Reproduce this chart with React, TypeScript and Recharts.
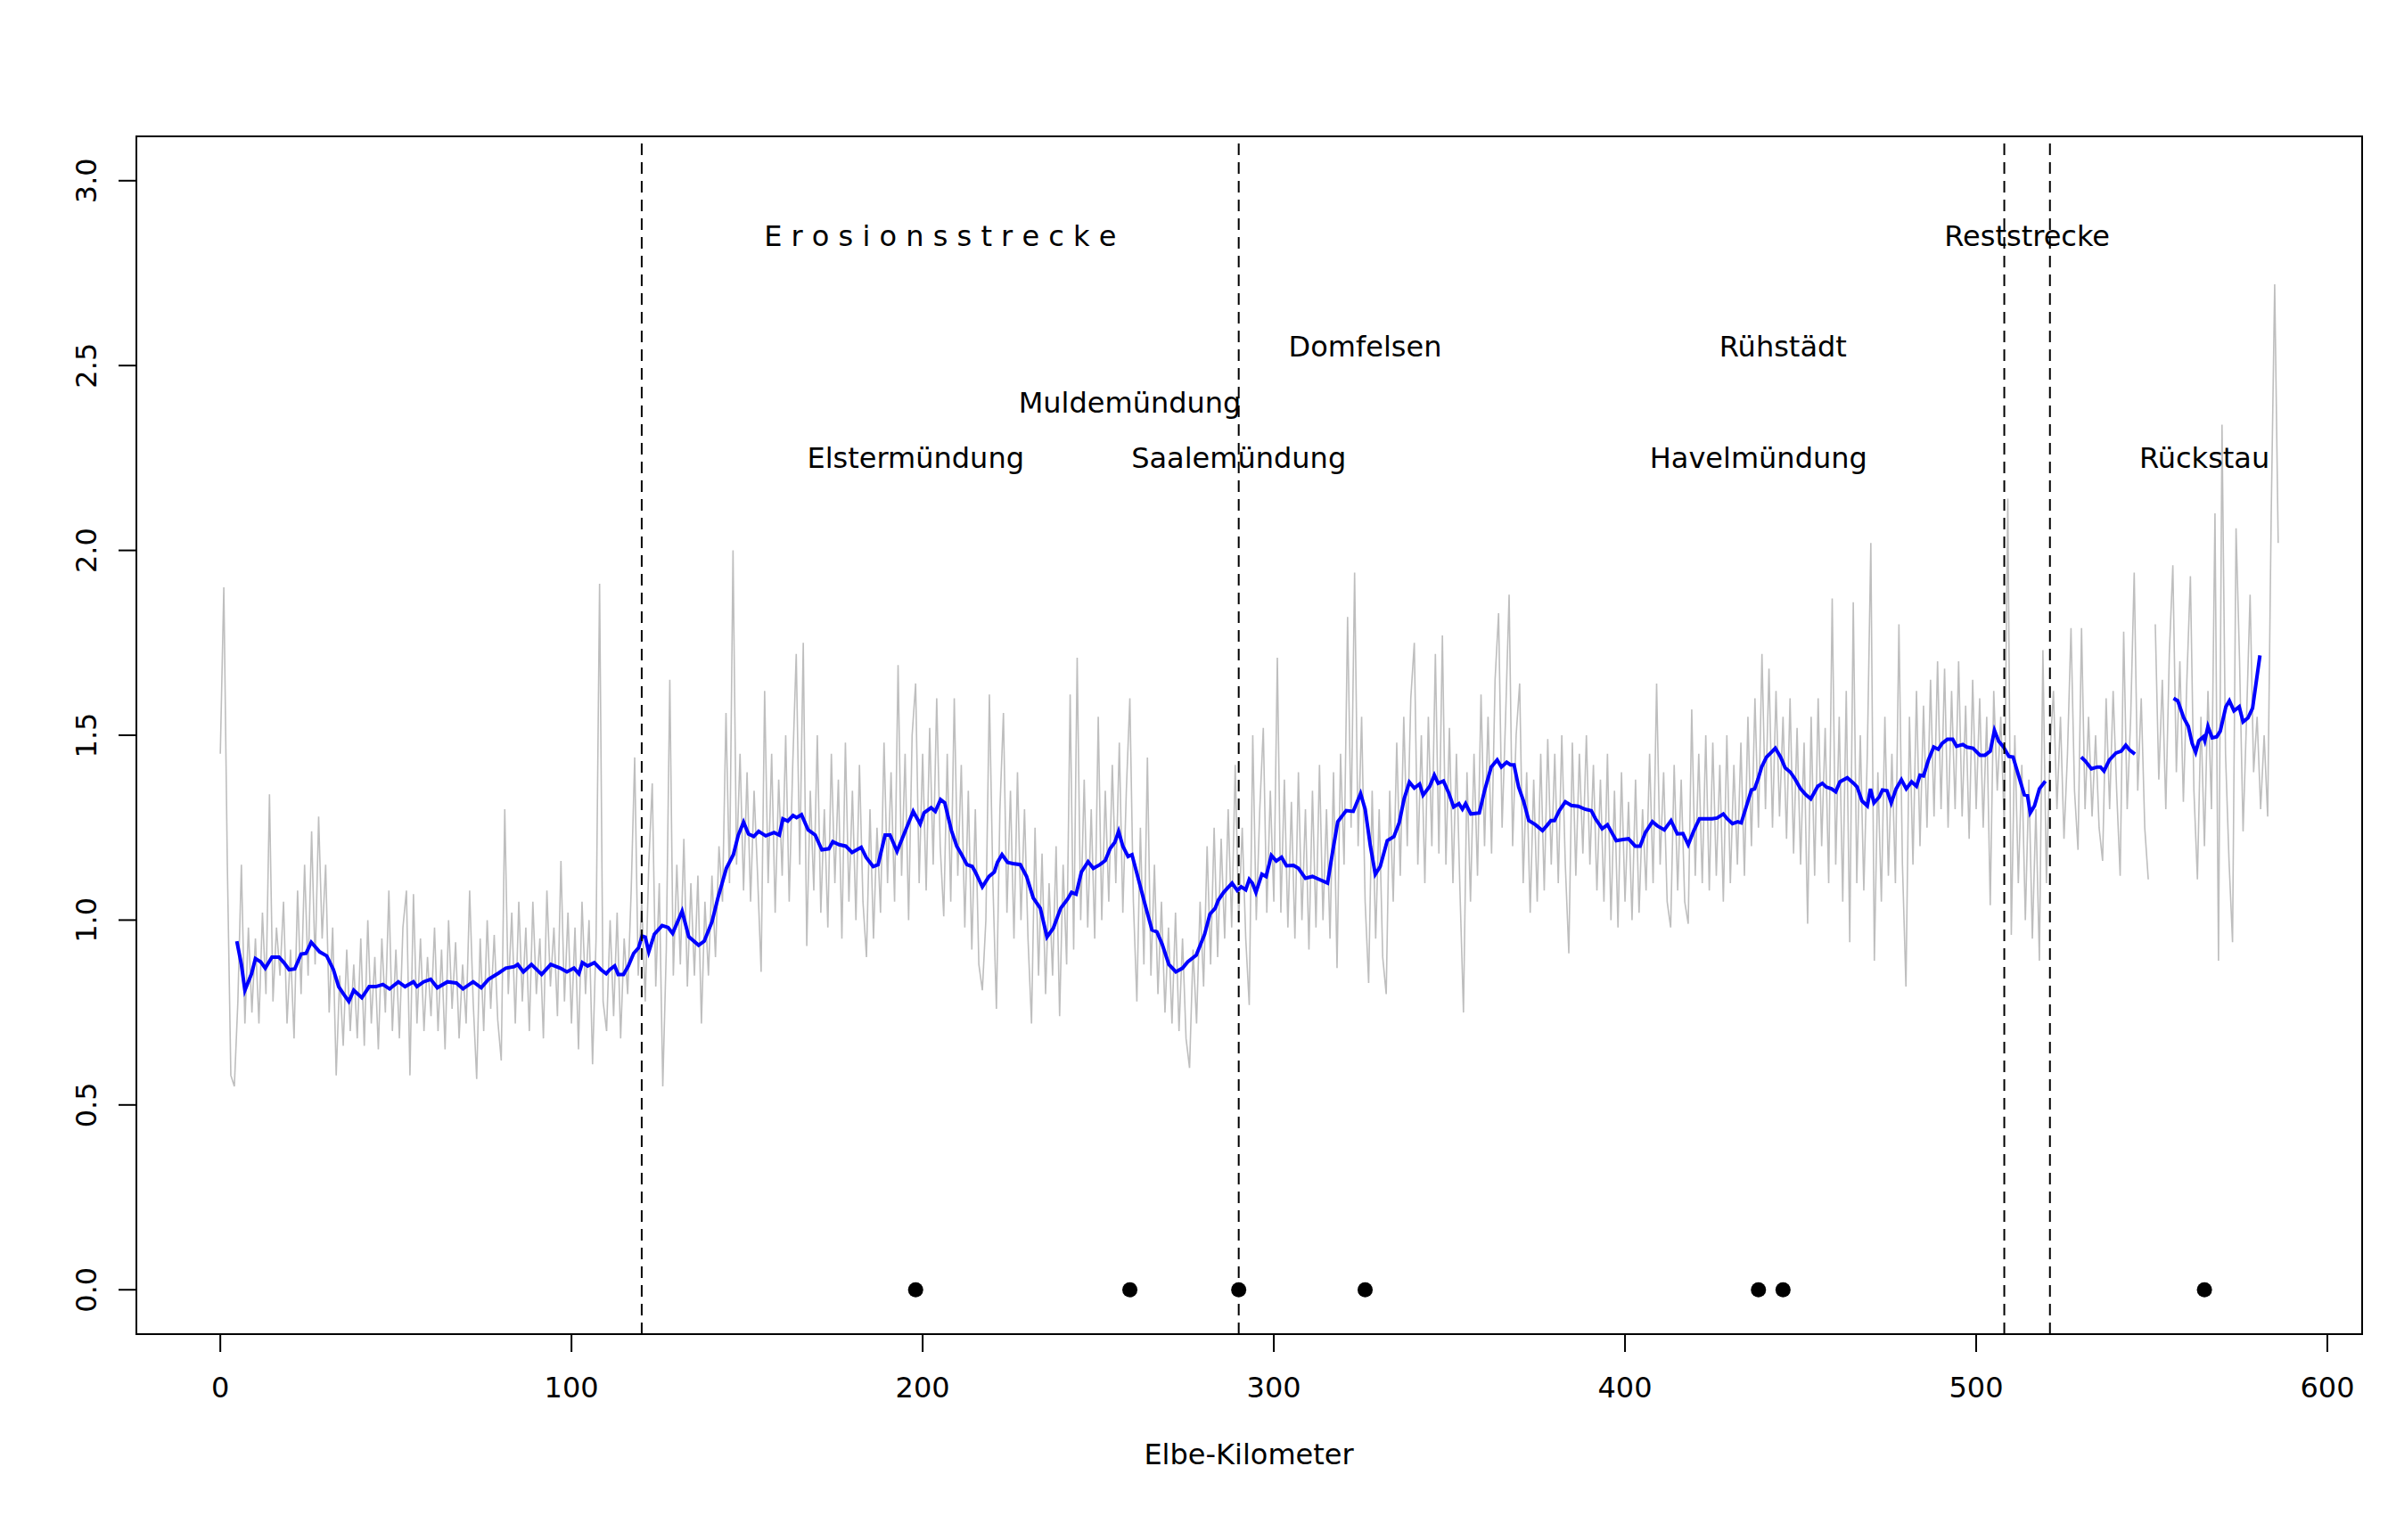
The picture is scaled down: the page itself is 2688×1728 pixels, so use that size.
import React from "react";
import {
  ComposedChart,
  Line,
  Scatter,
  XAxis,
  YAxis,
  ReferenceLine,
  ReferenceArea,
} from "recharts";

// ---------- data ----------
// raw depth values (grey), one reading per Elbe-Kilometer starting at km 0 (null = gap)
const GRAY_START_KM = 0;
const grayDepth: (number | null)[] = [
  1.45, 1.90, 1.15, 0.58, 0.55, 0.78, 1.15, 0.72, 0.98, 0.75,
  0.95, 0.72, 1.02, 0.80, 1.34, 0.78, 0.98, 0.85, 1.05, 0.72,
  0.92, 0.68, 1.08, 0.80, 1.15, 0.85, 1.24, 0.88, 1.28, 0.95,
  1.15, 0.75, 0.98, 0.58, 0.85, 0.66, 0.92, 0.70, 0.88, 0.68,
  0.95, 0.66, 1.00, 0.72, 0.90, 0.65, 0.95, 0.75, 1.08, 0.70,
  0.92, 0.68, 0.98, 1.08, 0.58, 1.07, 0.72, 0.95, 0.70, 0.90,
  0.74, 0.98, 0.70, 0.92, 0.65, 1.00, 0.76, 0.94, 0.68, 0.88,
  0.72, 1.08, 0.78, 0.57, 0.95, 0.70, 1.00, 0.76, 0.96, 0.73,
  0.62, 1.30, 0.80, 1.02, 0.72, 1.05, 0.78, 0.98, 0.70, 1.05,
  0.80, 0.95, 0.68, 1.08, 0.82, 0.98, 0.74, 1.16, 0.78, 1.02,
  0.72, 0.98, 0.65, 1.05, 0.80, 1.00, 0.61, 0.95, 1.91, 0.78,
  0.70, 1.00, 0.74, 1.02, 0.68, 0.95, 0.80, 1.08, 1.44, 0.85,
  1.05, 0.78, 1.15, 1.37, 0.82, 1.10, 0.55, 0.92, 1.65, 0.85,
  1.15, 0.88, 1.22, 0.82, 1.10, 0.85, 1.12, 0.72, 1.05, 0.85,
  1.12, 0.90, 1.20, 1.05, 1.56, 1.10, 2.00, 1.15, 1.45, 1.08,
  1.40, 1.05, 1.35, 1.12, 0.86, 1.62, 1.10, 1.45, 1.02, 1.38,
  1.12, 1.50, 1.05, 1.42, 1.72, 1.15, 1.75, 0.93, 1.35, 1.08,
  1.50, 1.02, 1.30, 0.98, 1.45, 1.10, 1.38, 0.95, 1.48, 1.05,
  1.35, 1.00, 1.42, 1.05, 0.90, 1.30, 0.95, 1.25, 1.02, 1.48,
  1.10, 1.40, 1.05, 1.69, 1.12, 1.45, 1.00, 1.50, 1.64, 1.10,
  1.45, 1.08, 1.52, 1.15, 1.60, 1.20, 1.01, 1.45, 1.05, 1.60,
  1.12, 1.42, 0.98, 1.35, 0.92, 1.30, 0.88, 0.81, 1.00, 1.61,
  1.10, 0.76, 1.30, 1.56, 1.02, 1.35, 0.95, 1.40, 1.00, 1.30,
  0.95, 0.72, 1.25, 0.85, 1.18, 0.80, 1.10, 0.85, 1.20, 0.74,
  1.15, 0.88, 1.61, 0.92, 1.71, 1.00, 1.38, 0.98, 1.30, 0.95,
  1.55, 1.00, 1.35, 1.05, 1.42, 1.10, 1.48, 1.02, 1.35, 1.60,
  1.05, 0.78, 1.25, 0.88, 1.44, 0.85, 1.15, 0.80, 1.05, 0.75,
  0.98, 0.72, 1.02, 0.70, 0.95, 0.68, 0.60, 0.92, 0.72, 1.05,
  0.82, 1.20, 0.88, 1.25, 0.90, 1.22, 0.95, 1.30, 0.98, 1.42,
  1.00, 1.25, 0.95, 0.77, 1.50, 1.00, 1.30, 1.52, 1.02, 1.35,
  1.05, 1.71, 1.02, 1.38, 0.98, 1.32, 0.95, 1.40, 1.00, 1.30,
  0.92, 1.35, 0.98, 1.42, 1.00, 1.30, 0.95, 1.40, 0.87, 1.45,
  1.15, 1.82, 1.25, 1.94, 1.20, 1.55, 1.05, 0.83, 1.35, 0.95,
  1.30, 0.90, 0.80, 1.35, 1.05, 1.48, 1.12, 1.55, 1.20, 1.60,
  1.75, 1.15, 1.50, 1.10, 1.55, 1.20, 1.72, 1.18, 1.77, 1.15,
  1.52, 1.10, 1.45, 1.08, 0.75, 1.40, 1.05, 1.45, 1.12, 1.61,
  1.20, 1.55, 1.18, 1.65, 1.83, 1.25, 1.55, 1.88, 1.20, 1.50,
  1.64, 1.10, 1.40, 1.02, 1.38, 1.05, 1.45, 1.08, 1.49, 1.15,
  1.45, 1.10, 1.50, 1.15, 0.91, 1.48, 1.12, 1.45, 1.18, 1.50,
  1.15, 1.42, 1.08, 1.38, 1.05, 1.45, 1.00, 1.35, 0.98, 1.40,
  1.05, 1.32, 1.00, 1.38, 1.02, 1.30, 1.08, 1.45, 1.10, 1.64,
  1.15, 1.40, 1.05, 0.98, 1.42, 1.08, 1.38, 1.05, 0.99, 1.57,
  1.12, 1.45, 1.10, 1.50, 1.08, 1.48, 1.12, 1.42, 1.05, 1.50,
  1.10, 1.42, 1.15, 1.48, 1.12, 1.55, 1.20, 1.60, 1.25, 1.72,
  1.30, 1.68, 1.25, 1.62, 1.28, 1.55, 1.22, 1.60, 1.18, 1.52,
  1.15, 1.48, 0.99, 1.55, 1.12, 1.60, 1.20, 1.52, 1.10, 1.87,
  1.15, 1.55, 1.05, 1.62, 0.94, 1.86, 1.10, 1.50, 1.08, 1.45,
  2.02, 0.89, 1.40, 1.05, 1.55, 1.12, 1.45, 1.10, 1.80, 1.15,
  0.82, 1.55, 1.15, 1.62, 1.20, 1.58, 1.25, 1.65, 1.28, 1.70,
  1.30, 1.68, 1.25, 1.62, 1.30, 1.70, 1.28, 1.58, 1.22, 1.65,
  1.30, 1.60, 1.25, 1.55, 1.04, 1.62, 1.35, 1.55, 1.25, 2.14,
  0.96, 1.50, 1.10, 1.42, 1.00, 1.38, 0.95, 1.30, 0.89, 1.73,
  1.10, 1.45, 1.62, 1.30, 1.55, 1.22, 1.45, 1.79, 1.35, 1.19,
  1.79, 1.30, 1.55, 1.28, 1.50, 1.25, 1.16, 1.60, 1.30, 1.62,
  1.35, 1.12, 1.78, 1.30, 1.55, 1.94, 1.35, 1.60, 1.25, 1.11,
  null, 1.80, 1.38, 1.65, 1.30, 1.72, 1.96, 1.40, 1.70, 1.32,
  1.65, 1.93, 1.35, 1.11, 1.55, 1.20, 1.62, 1.30, 2.10, 0.89,
  2.34, 1.45, 1.16, 0.94, 2.06, 1.70, 1.24, 1.55, 1.88, 1.40,
  1.55, 1.30, 1.50, 1.28, 2.09, 2.72, 2.02,
];

// smoothed depth (blue), km positions and values; null = gap
const blueKm: number[] = [
  4.7, 6, 7, 8.9, 10, 11.5, 12.8, 14.7, 16.7, 18.1, 19.6, 21.2, 23, 24.4, 25.9, 28.3, 30.3, 32.2, 33.7, 35.1,
  36.6, 38, 40.3, 42.4, 44.3, 46.3, 48.2, 50.7, 52.6, 55, 56, 57.9, 59.9, 61.8, 64.7, 67.2, 69.1, 72, 74.3, 76.4,
  79.3, 81.3, 83.7, 84.7, 86.3, 88.6, 91.5, 94.1, 96.8, 98.7, 100.7, 102.1, 103.1, 104.6, 106.5, 108.4, 109.9, 110.9, 112.3, 113.3,
  114.8, 116.2, 117.7, 119.1, 120.1, 121, 122, 123.6, 125.8, 127.5, 128.8, 131.5, 133.4, 136.2, 137.8, 140, 141.7, 144.1, 146.1, 147.5,
  149, 150.4, 151.9, 153.3, 155.3, 157.7, 159.2, 160.2, 161.6, 163.1, 164.1, 165.5, 167.4, 169.4, 171.3, 173.3, 174.4, 176.2, 178.1, 179.9,
  182.5, 183.9, 185.9, 187.3, 189.3, 190.7, 192.7, 195.1, 197.3, 199.3, 200.4, 202.4, 203.6, 205.1, 206.3, 208.2, 209.7, 211.1, 212.6, 214.1,
  215, 217, 218.9, 220.4, 221.3, 222.6, 224.2, 225.7, 227.8, 229.6, 231.5, 233.5, 235.4, 237.2, 239.3, 241.3, 242.4, 243.7, 245.2, 247.1,
  248.6, 250.5, 252, 253.4, 254.7, 255.8, 257, 258.5, 259.6, 260.9, 263.3, 265.3, 266.7, 268.2, 270.1, 272.1, 274, 275.5, 277.9, 280.3,
  281.8, 283.3, 284.2, 285.7, 288.1, 289.6, 290.7, 292, 293, 293.9, 294.9, 296.6, 297.8, 299.3, 300.7, 302.2, 303.6, 305.6, 307, 309,
  311, 312.9, 315.3, 316.8, 318.2, 320.6, 322.6, 324.7, 326, 327.5, 328.9, 330.3, 332.3, 334.2, 335.7, 337.1, 338.6, 340, 341.5, 342.5,
  344.4, 345.7, 346.8, 348.3, 349.8, 351.2, 352.7, 353.7, 354.6, 356.1, 358.5, 360, 361.9, 363.6, 364.8, 366.3, 367.4, 368.4, 369.7, 371.1,
  372.6, 374.5, 376.5, 377.7, 378.9, 379.9, 381.3, 383, 384.7, 386.7, 388.6, 390.4, 391.6, 393.5, 395, 397.5, 399.4, 401, 402.9, 404.3,
  405.8, 407.8, 409.2, 411.2, 413.1, 414.9, 416.5, 418, 419.6, 421.2, 422.8, 424.8, 426.2, 428, 429.1, 430.6, 432.1, 433.1, 434.5, 436,
  436.9, 437.9, 438.9, 440.3, 441.8, 442.8, 444.3, 445.6, 447.1, 448.4, 450, 451.5, 452.9, 454.9, 456.2, 457.3, 458.8, 460, 461.2, 463.3,
  465.1, 466.1, 467.5, 469, 469.9, 470.9, 472.4, 473.3, 474.6, 475.8, 477.2, 478.7, 480.1, 481.6, 483, 484, 485, 486.4, 487.9, 489.2,
  490.3, 491.8, 493.3, 494.4, 496.2, 497.3, 499.1, 501.1, 502.5, 504, 505.2, 506.4, 507.8, 509.3, 510.5, 511.7, 513.7, 514.6, 515.4, 516.6,
  518, 519.7,
  525,
  529.9, 531.1, 532.8, 534.5, 535.4, 536.4, 537.9, 539.8, 541.3, 542.6, 543.7, 545.2,
  550,
  556.2, 557.4, 559.1, 560.4, 561.5, 562.5, 563.4, 564.7, 565.1, 566, 567.2, 568.5, 569.5, 571.1, 572.1, 573.4, 574.9, 576, 577.4, 578.7,
  580.8,
];
const blueDepth: (number | null)[] = [
  0.943, 0.88, 0.81, 0.855, 0.896, 0.887, 0.87, 0.9, 0.9, 0.885, 0.866, 0.868, 0.908, 0.91, 0.94, 0.914, 0.903, 0.866, 0.82, 0.80,
  0.78, 0.81, 0.79, 0.82, 0.82, 0.826, 0.814, 0.833, 0.82, 0.833, 0.82, 0.833, 0.84, 0.817, 0.833, 0.83, 0.814, 0.833, 0.817, 0.84,
  0.857, 0.87, 0.874, 0.88, 0.86, 0.88, 0.853, 0.88, 0.87, 0.86, 0.87, 0.855, 0.885, 0.876, 0.885, 0.866, 0.855, 0.866, 0.876, 0.853,
  0.853, 0.876, 0.91, 0.925, 0.957, 0.954, 0.914, 0.962, 0.985, 0.98, 0.964, 1.024, 0.955, 0.932, 0.943, 0.995, 1.06, 1.14, 1.177, 1.23,
  1.265, 1.233, 1.226, 1.24, 1.228, 1.237, 1.23, 1.274, 1.268, 1.283, 1.277, 1.285, 1.244, 1.23, 1.19, 1.193, 1.212, 1.204, 1.2, 1.183,
  1.197, 1.17, 1.145, 1.15, 1.23, 1.23, 1.186, 1.242, 1.294, 1.26, 1.29, 1.304, 1.294, 1.326, 1.317, 1.242, 1.2, 1.177, 1.15, 1.145,
  1.13, 1.09, 1.118, 1.13, 1.156, 1.177, 1.156, 1.153, 1.15, 1.118, 1.06, 1.032, 0.954, 0.978, 1.032, 1.057, 1.075, 1.07, 1.13, 1.158,
  1.14, 1.15, 1.161, 1.194, 1.21, 1.24, 1.2, 1.172, 1.177, 1.13, 1.043, 0.973, 0.968, 0.935, 0.88, 0.86, 0.87, 0.887, 0.905, 0.962,
  1.016, 1.032, 1.054, 1.075, 1.1, 1.08, 1.09, 1.082, 1.11, 1.1, 1.075, 1.124, 1.118, 1.175, 1.16, 1.17, 1.147, 1.148, 1.14, 1.113,
  1.118, 1.11, 1.1, 1.188, 1.266, 1.296, 1.294, 1.342, 1.3, 1.2, 1.124, 1.145, 1.215, 1.226, 1.263, 1.328, 1.373, 1.357, 1.368, 1.338,
  1.362, 1.392, 1.37, 1.376, 1.344, 1.306, 1.315, 1.3, 1.315, 1.287, 1.29, 1.35, 1.414, 1.433, 1.414, 1.427, 1.42, 1.42, 1.36, 1.322,
  1.269, 1.258, 1.242, 1.255, 1.269, 1.269, 1.296, 1.32, 1.31, 1.308, 1.3, 1.296, 1.274, 1.247, 1.258, 1.215, 1.218, 1.22, 1.2, 1.2,
  1.237, 1.266, 1.255, 1.244, 1.269, 1.233, 1.234, 1.204, 1.242, 1.274, 1.274, 1.274, 1.276, 1.287, 1.274, 1.261, 1.266, 1.263, 1.306, 1.352,
  1.355, 1.382, 1.414, 1.441, 1.455, 1.465, 1.441, 1.412, 1.4, 1.382, 1.355, 1.339, 1.328, 1.362, 1.37, 1.36, 1.355, 1.347, 1.374, 1.385,
  1.37, 1.36, 1.322, 1.309, 1.355, 1.317, 1.333, 1.352, 1.35, 1.317, 1.355, 1.38, 1.355, 1.374, 1.362, 1.392, 1.39, 1.433, 1.468, 1.462,
  1.478, 1.489, 1.489, 1.47, 1.475, 1.468, 1.465, 1.446, 1.446, 1.457, 1.513, 1.484, 1.468, 1.443, 1.441, 1.403, 1.339, 1.337, 1.29, 1.309,
  1.355, 1.376,
  null,
  1.441, 1.43, 1.409, 1.414, 1.414, 1.403, 1.433, 1.452, 1.457, 1.473, 1.46, 1.449,
  null,
  1.60, 1.593, 1.547, 1.524, 1.478, 1.454, 1.485, 1.496, 1.485, 1.524, 1.493, 1.496, 1.511, 1.577, 1.593, 1.566, 1.577, 1.536, 1.547, 1.573,
  1.716,
];

// marked locations (black dots on the zero line)
const markerKm = [198, 259, 290, 326, 438, 445, 565];
const markerDepth = [0, 0, 0, 0, 0, 0, 0];

// section boundaries (dashed lines)
const boundaryKm = [120, 290, 508, 521];

// annotations
const labelText = [
  "E r o s i o n s s t r e c k e",
  "Reststrecke",
  "Domfelsen",
  "Rühstädt",
  "Muldemündung",
  "Elstermündung",
  "Saalemündung",
  "Havelmündung",
  "Rückstau",
];
const labelKm = [205, 514.5, 326, 445, 259, 198, 290, 438, 565];
const labelY = [2.85, 2.85, 2.55, 2.55, 2.4, 2.25, 2.25, 2.25, 2.25];

const xTicks = [0, 100, 200, 300, 400, 500, 600];
const yTicks = [0, 0.5, 1, 1.5, 2, 2.5, 3];

// ---------- layout ----------
const W = 2688;
const H = 1728;
const X_DOMAIN: [number, number] = [-23.9, 609.9];
const Y_DOMAIN: [number, number] = [-0.12, 3.12];
const FONT = "DejaVu Sans, Liberation Sans, sans-serif";
const FS = 32;

const grayData = grayDepth.map((v, i) => ({ x: GRAY_START_KM + i, y: v }));
const blueData = blueKm.map((k, i) => ({ x: k, y: blueDepth[i] }));
const markerData = markerKm.map((k, i) => ({ x: k, y: markerDepth[i] }));
const labelData = labelText.map((t, i) => ({ x: labelKm[i], y: labelY[i], label: t }));

const XTick = (p: any) => (
  <text x={p.x} y={1568} textAnchor="middle" fontSize={FS} fontFamily={FONT} fill="#000">
    {p.payload.value}
  </text>
);

const YTick = (p: any) => (
  <text
    x={108}
    y={p.y}
    transform={`rotate(-90, 108, ${p.y})`}
    textAnchor="middle"
    fontSize={FS}
    fontFamily={FONT}
    fill="#000"
  >
    {Number(p.payload.value).toFixed(1)}
  </text>
);

const DotShape = (p: any) => <circle cx={p.cx} cy={p.cy} r={8.5} fill="#000" />;

const LabelShape = (p: any) => (
  <text
    x={p.cx}
    y={p.cy}
    textAnchor="middle"
    dominantBaseline="central"
    fontSize={FS}
    fontFamily={FONT}
    fill="#000"
  >
    {p.payload.label}
  </text>
);

const XTitle = () => (
  <text x={1401} y={1643} textAnchor="middle" fontSize={FS} fontFamily={FONT} fill="#000">
    Elbe-Kilometer
  </text>
);

export default function App() {
  return (
    <div style={{ position: "absolute", left: 0, top: 0, width: W, height: H, background: "#fff" }}>
      <ComposedChart width={W} height={H} margin={{ top: 153, right: 38, bottom: 131, left: 53 }}>
        <XAxis
          dataKey="x"
          type="number"
          domain={X_DOMAIN}
          allowDataOverflow
          ticks={xTicks}
          interval={0}
          axisLine={false}
          tickLine={{ stroke: "#000", strokeWidth: 2 }}
          tickSize={20}
          tick={XTick}
          height={100}
          label={XTitle}
        />
        <YAxis
          dataKey="y"
          type="number"
          domain={Y_DOMAIN}
          allowDataOverflow
          ticks={yTicks}
          interval={0}
          axisLine={false}
          tickLine={{ stroke: "#000", strokeWidth: 2 }}
          tickSize={20}
          tick={YTick}
          width={100}
        />
        <ReferenceArea
          x1={X_DOMAIN[0]}
          x2={X_DOMAIN[1]}
          y1={Y_DOMAIN[0]}
          y2={Y_DOMAIN[1]}
          fill="none"
          fillOpacity={0}
          stroke="#000"
          strokeWidth={2}
          ifOverflow="visible"
        />
        <Line
          data={grayData}
          dataKey="y"
          type="linear"
          stroke="#bebebe"
          strokeWidth={1.6}
          dot={false}
          activeDot={false}
          connectNulls={false}
          isAnimationActive={false}
        />
        <Line
          data={blueData}
          dataKey="y"
          type="linear"
          stroke="#0000ff"
          strokeWidth={4}
          dot={false}
          activeDot={false}
          connectNulls={false}
          isAnimationActive={false}
        />
        {boundaryKm.map((k) => (
          <ReferenceLine key={k} x={k} stroke="#000" strokeWidth={2} strokeDasharray="13 8" />
        ))}
        <Scatter data={markerData} dataKey="y" shape={DotShape} isAnimationActive={false} />
        <Scatter data={labelData} dataKey="y" shape={LabelShape} isAnimationActive={false} />
      </ComposedChart>
    </div>
  );
}
